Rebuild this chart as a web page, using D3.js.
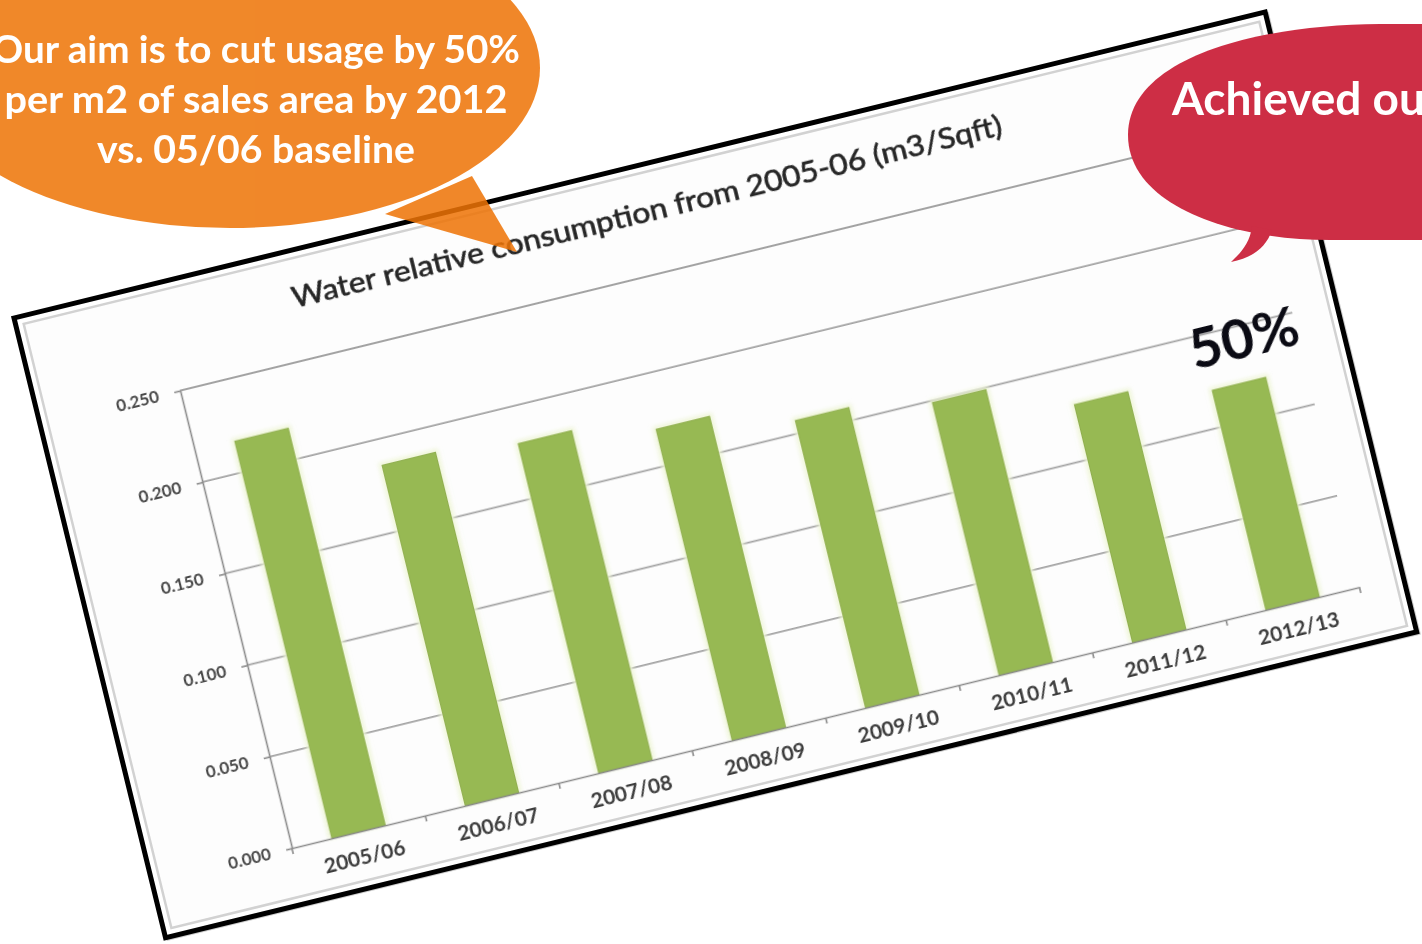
<!DOCTYPE html>
<html><head><meta charset="utf-8">
<script src="https://cdn.jsdelivr.net/npm/d3@7"></script>
<style>html,body{margin:0;padding:0;background:#fff;overflow:hidden}</style>
</head><body>
<svg id="c" width="1422" height="944"></svg>
<script>
const categories = ["2005/06","2006/07","2007/08","2008/09","2009/10","2010/11","2011/12","2012/13"];
const values = [0.217,0.186,0.180,0.170,0.157,0.149,0.130,0.120];
const yTicks = [0,0.05,0.10,0.15,0.20,0.25];
const chartTitle = "Water relative consumption from 2005-06 (m3/Sqft)";
const aimLines = ["Our aim is to cut usage by 50%","per m2 of sales area by 2012","vs. 05/06 baseline"];
const achievedLines = ["Achieved our"];
const reductionLabel = "50%";

const FONT = "Lato, 'Open Sans', sans-serif";
const svg = d3.select("#c");
svg.append("rect").attr("width",1422).attr("height",944).attr("fill","#fff");
const defs = svg.append("defs");
defs.append("filter").attr("id","soft").append("feGaussianBlur").attr("stdDeviation",0.65);
defs.append("filter").attr("id","halo").append("feGaussianBlur").attr("stdDeviation",2);

// rotated card
const card = svg.append("g").attr("transform","translate(14,318) rotate(-13.74)");
card.append("rect").attr("x",2).attr("y",2).attr("width",1288).attr("height",638)
  .attr("fill","none").attr("stroke","#9a9a9a").attr("stroke-width",3).attr("opacity",0.5);
card.append("rect").attr("x",0).attr("y",0).attr("width",1288).attr("height",638)
  .attr("fill","#fff").attr("stroke","#000").attr("stroke-width",5);
card.append("rect").attr("x",8).attr("y",8).attr("width",1272).attr("height",622)
  .attr("fill","#fdfdfd").attr("stroke","#d2d2d2").attr("stroke-width",2.5);

const x = d3.scaleBand().domain(categories).range([144,1243]).paddingInner(0.6).paddingOuter(0.3);
const y = d3.scaleLinear().domain([0,0.25]).range([581,110]);

const plot = card.append("g").attr("filter","url(#soft)");

// gridlines
plot.append("g").selectAll("line").data(yTicks.slice(1)).join("line")
  .attr("x1",x.range()[0]).attr("x2",x.range()[1])
  .attr("y1",d=>y(d)).attr("y2",d=>y(d))
  .attr("stroke","#a3a3a3").attr("stroke-width",1.8);

// bar halo
plot.append("g").attr("filter","url(#halo)").selectAll("rect").data(values).join("rect")
  .attr("x",(d,i)=>x(categories[i])-3).attr("y",d=>y(d)-3)
  .attr("width",x.bandwidth()+6).attr("height",d=>y(0)-y(d)+3)
  .attr("fill","#eef5d6");
// bars
plot.append("g").selectAll("rect").data(values).join("rect")
  .attr("x",(d,i)=>x(categories[i])).attr("y",d=>y(d))
  .attr("width",x.bandwidth()).attr("height",d=>y(0)-y(d))
  .attr("fill","#97b953").attr("stroke","#8fae4e").attr("stroke-width",1);

// y axis
const ya = plot.append("g").attr("transform",`translate(${x.range()[0]},0)`)
  .call(d3.axisLeft(y).tickValues(yTicks).tickFormat(d3.format(".3f")).tickSize(6).tickSizeOuter(0).tickPadding(16));
ya.select(".domain").attr("stroke","#8a8a8a").attr("stroke-width",1.6);
ya.selectAll(".tick line").attr("stroke","#8a8a8a").attr("stroke-width",1.6);
ya.selectAll("text").attr("font-family",FONT).attr("font-size",17).attr("font-weight",700).attr("fill","#4a4a4a");

// x axis
const xa = plot.append("g").attr("transform",`translate(0,${y(0)})`)
  .call(d3.axisBottom(x).tickSize(0).tickSizeOuter(0).tickPadding(18));
xa.select(".domain").attr("stroke","#8a8a8a").attr("stroke-width",1.6);
xa.selectAll("text").attr("font-family",FONT).attr("font-size",21).attr("font-weight",700).attr("fill","#3d3d3d");
const bounds = categories.map(c=>x(c)+x.bandwidth()/2-x.step()/2).concat([x(categories[categories.length-1])+x.bandwidth()/2+x.step()/2]);
xa.append("g").selectAll("line").data(bounds).join("line")
  .attr("x1",d=>d).attr("x2",d=>d).attr("y1",0).attr("y2",6)
  .attr("stroke","#8a8a8a").attr("stroke-width",1.6);

// title
plot.append("text").attr("x",640).attr("y",57).attr("text-anchor","middle")
  .attr("font-family",FONT).attr("font-size",28).attr("fill","#262626")
  .attr("stroke","#262626").attr("stroke-width",0.6)
  .attr("textLength",730).attr("lengthAdjust","spacingAndGlyphs")
  .text(chartTitle);

// 50% label
card.append("text").attr("x",1190).attr("y",331).attr("text-anchor","middle")
  .attr("font-family",FONT).attr("font-size",56).attr("font-weight",700).attr("fill","#0b0b14")
  .text(reductionLabel);

// orange bubble
const ob = svg.append("g").attr("opacity",0.86);
ob.append("ellipse").attr("cx",230).attr("cy",68).attr("rx",310).attr("ry",160).attr("fill","#ee7406");
ob.append("path").attr("d","M385,214 L517,252 L472,176 Z").attr("fill","#ee7406");
svg.append("g").selectAll("text").data(aimLines).join("text")
  .attr("x",256).attr("y",(d,i)=>63+i*50).attr("text-anchor","middle")
  .attr("font-family",FONT).attr("font-size",38).attr("font-weight",700).attr("fill","#fff")
  .attr("textLength",(d,i)=>[528,503,318][i]).attr("lengthAdjust","spacingAndGlyphs")
  .text(d=>d);

// red bubble
svg.append("path")
  .attr("d","M1128,135 C1128,60 1250,25 1380,24 L1500,24 L1500,240 L1330,240 C1230,240 1128,205 1128,135 Z")
  .attr("fill","#cd2e45");
svg.append("path")
  .attr("d","M1272,230 C1266,248 1252,258 1231,262 C1238,255 1250,245 1252,226 Z")
  .attr("fill","#cd2e45");
svg.append("g").selectAll("text").data(achievedLines).join("text")
  .attr("x",1172).attr("y",(d,i)=>115+i*50)
  .attr("font-family",FONT).attr("font-size",46).attr("font-weight",700).attr("fill","#fff")
  .text(d=>d);
</script>
</body></html>
